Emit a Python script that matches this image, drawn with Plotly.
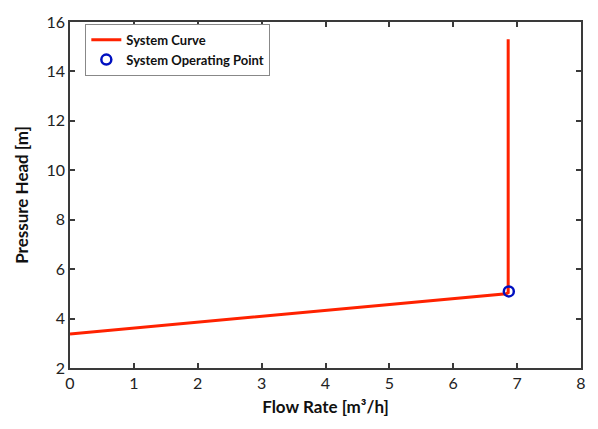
import plotly.graph_objects as go

# System curve points (flow rate m3/h, head m)
curve_x = [0.0, 6.83, 6.86, 6.86]
curve_y = [3.38, 5.0, 5.05, 15.3]

# Operating point
op_x = [6.87]
op_y = [5.1]

x_ticks = [0, 1, 2, 3, 4, 5, 6, 7, 8]
y_ticks = [2, 4, 6, 8, 10, 12, 14, 16]

fig = go.Figure()
fig.add_trace(go.Scatter(x=curve_x, y=curve_y, mode="lines", name="System Curve",
                         line=dict(color="#FF2200", width=3)))
fig.add_trace(go.Scatter(x=op_x, y=op_y, mode="markers", name="System Operating Point",
                         marker=dict(symbol="circle-open", size=10, color="#0010C0",
                                     line=dict(width=2.5, color="#0010C0"))))

axis_common = dict(showline=True, linecolor="#3a3a3a", linewidth=1.5, mirror="ticks",
                   ticks="inside", ticklen=5, tickcolor="#3a3a3a", tickwidth=1.5,
                   showgrid=False, zeroline=False,
                   tickfont=dict(family="Lato, Open Sans, sans-serif", size=16, color="#222"))

fig.update_xaxes(range=[0, 8], tickvals=x_ticks,
                 title=dict(text="<b>Flow Rate [m³/h]</b>", standoff=10,
                            font=dict(family="Lato, Open Sans, sans-serif", size=17, color="#111")),
                 **axis_common)
fig.update_yaxes(range=[2, 16], tickvals=y_ticks,
                 title=dict(text="<b>Pressure Head [m]</b>", standoff=14,
                            font=dict(family="Lato, Open Sans, sans-serif", size=17, color="#111")),
                 **axis_common)

fig.update_layout(width=598, height=429,
                  margin=dict(l=70, r=13, t=13, b=61),
                  plot_bgcolor="white", paper_bgcolor="white",
                  legend=dict(x=0.03, y=0.995, xanchor="left", yanchor="top",
                              bgcolor="white", bordercolor="#888", borderwidth=1,
                              font=dict(family="Lato, Open Sans, sans-serif", size=13,
                                        color="#111", weight="bold"),
                              tracegroupgap=0, itemwidth=30))

fig.write_html("out.html")
